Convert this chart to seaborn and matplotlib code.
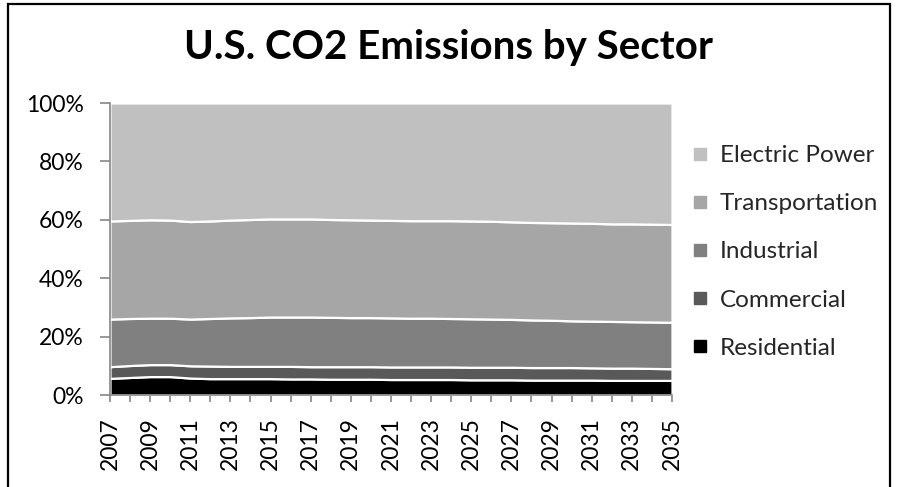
import numpy as np
import matplotlib
matplotlib.use("Agg")
import matplotlib.pyplot as plt
import seaborn as sns
from matplotlib.lines import Line2D
from matplotlib.patches import Rectangle

# Share of U.S. CO2 emissions by sector (percent of total)
years = list(range(2007, 2036))
residential = [5.7, 6.0, 6.3, 6.3, 5.8, 5.6, 5.6, 5.6, 5.6, 5.5, 5.5, 5.4, 5.4, 5.4, 5.3,
               5.3, 5.3, 5.3, 5.2, 5.2, 5.2, 5.1, 5.1, 5.1, 5.1, 5.0, 5.0, 5.0, 5.0]
commercial = [4.0, 4.1, 4.1, 4.1, 4.2, 4.3, 4.2, 4.2, 4.2, 4.3, 4.2, 4.3, 4.3, 4.3, 4.3,
              4.3, 4.3, 4.3, 4.3, 4.3, 4.3, 4.3, 4.3, 4.3, 4.2, 4.2, 4.2, 4.1, 4.0]
industrial = [16.3, 16.1, 15.9, 15.9, 16.0, 16.3, 16.6, 16.7, 16.9, 16.9, 17.0, 16.9, 16.8, 16.8, 16.8,
              16.7, 16.7, 16.6, 16.6, 16.5, 16.4, 16.3, 16.2, 16.0, 16.0, 16.0, 15.9, 15.9, 15.9]
transportation = [33.6, 33.6, 33.7, 33.6, 33.4, 33.4, 33.5, 33.6, 33.6, 33.6, 33.6, 33.5, 33.5, 33.4, 33.4,
                  33.4, 33.4, 33.5, 33.5, 33.5, 33.4, 33.4, 33.4, 33.5, 33.5, 33.4, 33.5, 33.5, 33.5]
electric_power = [40.4, 40.2, 40.0, 40.1, 40.6, 40.4, 40.1, 39.9, 39.7, 39.7, 39.7, 39.9, 40.0, 40.1, 40.2,
                  40.3, 40.3, 40.3, 40.4, 40.5, 40.7, 40.9, 41.0, 41.1, 41.2, 41.4, 41.4, 41.5, 41.6]

sectors = ["Residential", "Commercial", "Industrial", "Transportation", "Electric Power"]
colors = ["#000000", "#595959", "#808080", "#A6A6A6", "#C0C0C0"]

sns.set_theme(style="white")
plt.rcParams["font.family"] = ["Lato", "DejaVu Sans"]

values = np.array([residential, commercial, industrial, transportation, electric_power], dtype=float)
shares = values / values.sum(axis=0) * 100.0

fig = plt.figure(figsize=(8.97, 4.87), dpi=100)
ax = fig.add_axes([110 / 897, 1 - 395 / 487, (672 - 110) / 897, (395 - 103) / 487])

ax.stackplot(years, shares, colors=colors, edgecolor="white", linewidth=1.6)

ax.set_xlim(2007, 2035)
ax.set_ylim(0, 100)
ax.set_yticks(range(0, 101, 20))
ax.set_yticklabels([f"{v}%" for v in range(0, 101, 20)], fontsize=16.5, color="#000000")
ax.set_xticks(years)
ax.set_xticklabels([str(y) if (y - 2007) % 2 == 0 else "" for y in years],
                   rotation=90, fontsize=16.5, color="#000000")

for side in ["top", "right"]:
    ax.spines[side].set_visible(False)
for side in ["left", "bottom"]:
    ax.spines[side].set_color("#868686")
    ax.spines[side].set_linewidth(1.2)
ax.tick_params(axis="y", direction="out", length=7, width=1.2, color="#868686", pad=12, left=True)
ax.tick_params(axis="x", direction="out", length=5, width=1.2, color="#868686", pad=11, bottom=True)

fig.text(0.5, 1 - 48 / 487, "U.S. CO2 Emissions by Sector", ha="center", va="center",
         fontsize=29, fontweight="bold", color="#000000")

handles = [Line2D([], [], marker="s", linestyle="none", markersize=8,
                  markerfacecolor=c, markeredgecolor=c) for c in colors]
leg = fig.legend(handles[::-1], sectors[::-1], loc="upper left",
                 bbox_to_anchor=(688 / 897, 1 - 145 / 487), frameon=False,
                 fontsize=17.5, labelspacing=1.12, handletextpad=0.3, handlelength=1.0,
                 borderaxespad=0, borderpad=0)

fig.add_artist(Rectangle((8 / 897, -0.02), (890 - 8) / 897, 1 - 4 / 487 + 0.02,
                         transform=fig.transFigure, fill=False, edgecolor="black", linewidth=1.6))

fig.savefig("out.png", dpi=100)
